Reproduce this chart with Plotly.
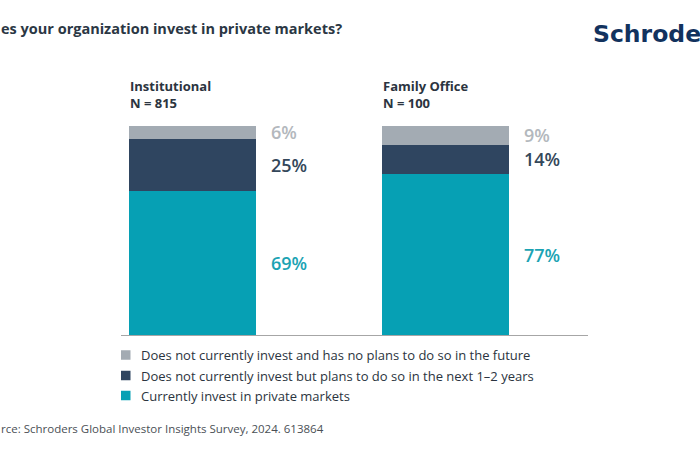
import plotly.graph_objects as go

# ---- data ----
groups = ["Institutional", "Family Office"]
group_n = ["N = 815", "N = 100"]
series_names = [
    "Currently invest in private markets",
    "Does not currently invest but plans to do so in the next 1–2 years",
    "Does not currently invest and has no plans to do so in the future",
]
currently_invest = [69, 77]
plans_to_invest = [25, 14]
no_plans = [6, 9]
series_values = [currently_invest, plans_to_invest, no_plans]
bar_colors = ["#06a0b4", "#2f4560", "#a3abb3"]
label_colors = ["#1ba3b3", "#34475a", "#b3b8bd"]

title_text = "es your organization invest in private markets?"
source_text = "rce: Schroders Global Investor Insights Survey, 2024. 613864"
logo_text = "Schrode"

# ---- layout geometry ----
W, H = 700, 450
L, R, T, B = 121, 112, 126, 115
PW, PH = W - L - R, H - T - B
FONT = "Open Sans"


def px(xp):
    return (xp - L) / PW


def py(yp):
    return (H - B - yp) / PH


fig = go.Figure()
for name, vals, col in zip(series_names, series_values, bar_colors):
    fig.add_trace(go.Bar(
        x=groups, y=vals, name=name, marker=dict(color=col, line=dict(width=0)),
        width=0.503, showlegend=False, hoverinfo="skip",
    ))

annotations = []
# value labels
for gi, g in enumerate(groups):
    cum = 0
    for si, vals in enumerate(series_values):
        v = vals[gi]
        mid = cum + v / 2
        cum += v
        annotations.append(dict(
            x=g, y=mid, xref="x", yref="y", text=f"{v}%", showarrow=False,
            xanchor="left", yanchor="middle", xshift=77,
            font=dict(family=FONT, size=18, color=label_colors[si], weight=600),
        ))
    # group headers
    annotations.append(dict(
        x=g, y=100, xref="x", yref="y", text=f"{g}<br>{group_n[gi]}",
        showarrow=False, xanchor="left", yanchor="bottom", align="left",
        xshift=-64, yshift=12,
        font=dict(family=FONT, size=13, color="#2b3440", weight=700),
    ))

# title, logo, source
annotations.append(dict(
    x=px(-1), y=py(29), xref="paper", yref="paper", text=title_text,
    showarrow=False, xanchor="left", yanchor="middle",
    font=dict(family=FONT, size=14.5, color="#2b3744", weight=700),
))
annotations.append(dict(
    x=px(591), y=py(34), xref="paper", yref="paper", text=logo_text,
    showarrow=False, xanchor="left", yanchor="middle",
    font=dict(family="DejaVu Sans", size=23.5, color="#12325e", weight=700),
))
annotations.append(dict(
    x=px(-1), y=py(428), xref="paper", yref="paper", text=source_text,
    showarrow=False, xanchor="left", yanchor="middle",
    font=dict(family=FONT, size=11.5, color="#4a4f55"),
))

# manual legend (gray, navy, teal from top)
shapes = []
row_y = [355, 375.5, 395.5]
for ri, si in enumerate([2, 1, 0]):
    yc = row_y[ri]
    shapes.append(dict(
        type="rect", xref="paper", yref="paper",
        x0=px(121), x1=px(130.5), y0=py(yc + 4.75), y1=py(yc - 4.75),
        fillcolor=bar_colors[si], line=dict(width=0),
    ))
    annotations.append(dict(
        x=px(139), y=py(yc), xref="paper", yref="paper", text=series_names[si],
        showarrow=False, xanchor="left", yanchor="middle",
        font=dict(family=FONT, size=13, color="#2b3440"),
    ))

fig.update_layout(
    barmode="stack",
    width=W, height=H,
    margin=dict(l=L, r=R, t=T, b=B, pad=0),
    paper_bgcolor="white", plot_bgcolor="white",
    xaxis=dict(type="category", range=[-0.283, 1.566], showticklabels=False,
               ticks="", showgrid=False, zeroline=False, showline=True,
               linecolor="#a6a6a6", linewidth=1, fixedrange=True),
    yaxis=dict(range=[0, 100], visible=False, fixedrange=True),
    annotations=annotations,
    shapes=shapes,
    showlegend=False,
)

fig.write_html("out.html")
